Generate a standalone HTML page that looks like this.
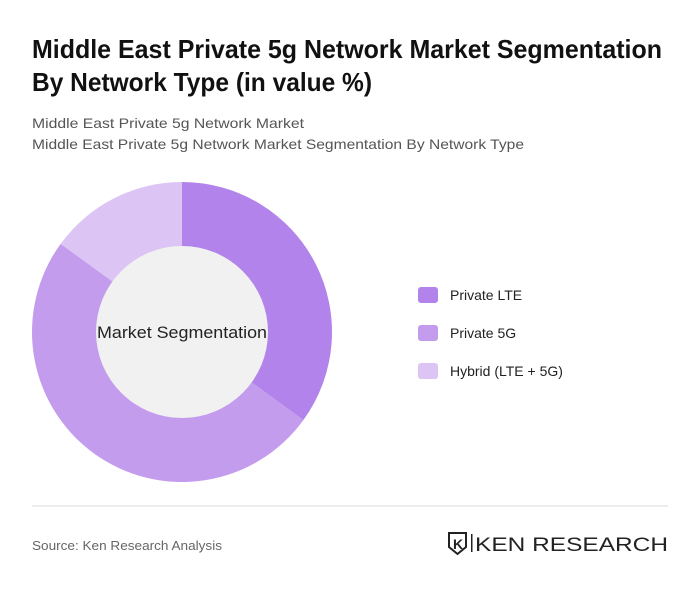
<!DOCTYPE html>
<html><head><meta charset="utf-8"><style>
html,body{margin:0;padding:0;background:#fff;}
svg{display:block;font-family:"Liberation Sans",sans-serif;}
</style></head><body>
<svg width="700" height="591" viewBox="0 0 700 591">
<rect width="700" height="591" fill="#fff"/>
<text x="32" y="58" font-size="26" font-weight="bold" fill="#111" textLength="630" lengthAdjust="spacingAndGlyphs">Middle East Private 5g Network Market Segmentation</text>
<text x="32" y="91" font-size="26" font-weight="bold" fill="#111" textLength="340" lengthAdjust="spacingAndGlyphs">By Network Type (in value %)</text>
<text x="32" y="128" font-size="14" fill="#555" textLength="272" lengthAdjust="spacingAndGlyphs">Middle East Private 5g Network Market</text>
<text x="32" y="149" font-size="14" fill="#555" textLength="492" lengthAdjust="spacingAndGlyphs">Middle East Private 5g Network Market Segmentation By Network Type</text>
<g id="donut"></g>
<circle cx="182" cy="332" r="86" fill="#f1f1f1"/>
<text x="182" y="338" font-size="17" fill="#222" text-anchor="middle" textLength="170" lengthAdjust="spacingAndGlyphs">Market Segmentation</text>
<g id="legend"></g>
<line x1="32" y1="506" x2="668" y2="506" stroke="#d8d8d8" stroke-width="1"/>
<text x="32" y="550" font-size="13" fill="#666" textLength="190" lengthAdjust="spacingAndGlyphs">Source: Ken Research Analysis</text>
<g>
<path d="M449 533 h17 v14 l-8.5 7 l-8.5 -7 z" fill="none" stroke="#222" stroke-width="2"/>
<text x="453" y="549" font-size="14" font-weight="bold" fill="#222">K</text>
<rect x="471" y="534" width="1.5" height="18" fill="#222"/>
<text x="475" y="551" font-size="19" fill="#222" textLength="193" lengthAdjust="spacingAndGlyphs">KEN RESEARCH</text>
</g>
</svg>
<script>
const categories = ["Private LTE", "Private 5G", "Hybrid (LTE + 5G)"];
const values = [35, 50, 15];
const colors = ["#b383ec", "#c49cee", "#dcc5f5"];
const NS = "http://www.w3.org/2000/svg";
const cx = 182, cy = 332, R = 150, r0 = 86;
const total = values.reduce((a, b) => a + b, 0);
function pt(a, rad) { return [cx + rad * Math.sin(a), cy - rad * Math.cos(a)]; }
const g = document.getElementById("donut");
let a0 = 0;
values.forEach((v, i) => {
  const a1 = a0 + v / total * 2 * Math.PI;
  const [x0, y0] = pt(a0, R), [x1, y1] = pt(a1, R);
  const large = (a1 - a0) > Math.PI ? 1 : 0;
  const p = document.createElementNS(NS, "path");
  p.setAttribute("d", `M${cx} ${cy} L${x0} ${y0} A${R} ${R} 0 ${large} 1 ${x1} ${y1} Z`);
  p.setAttribute("fill", colors[i]);
  
  
  g.appendChild(p);
  a0 = a1;
});
const lg = document.getElementById("legend");
categories.forEach((c, i) => {
  const y = 295 + i * 38;
  const item = document.createElementNS(NS, "g");
  
  
  const s = document.createElementNS(NS, "rect");
  s.setAttribute("x", 418); s.setAttribute("y", y - 8);
  s.setAttribute("width", 20); s.setAttribute("height", 16);
  s.setAttribute("rx", 3); s.setAttribute("fill", colors[i]);
  
  
  const t = document.createElementNS(NS, "text");
  t.setAttribute("x", 450); t.setAttribute("y", y + 5);
  t.setAttribute("font-size", "14"); t.setAttribute("fill", "#222");
  t.textContent = c;
  
  
  item.appendChild(s); item.appendChild(t);
  lg.appendChild(item);
});
</script>
</body></html>
